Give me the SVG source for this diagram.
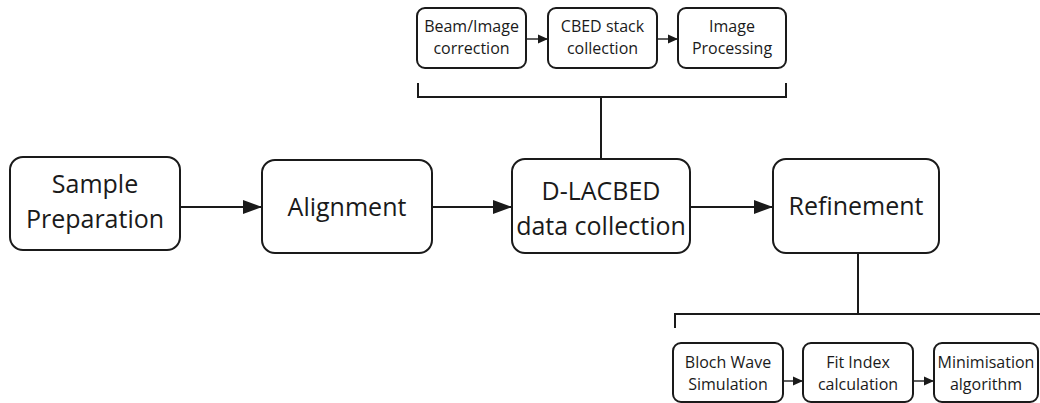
<svg xmlns="http://www.w3.org/2000/svg" width="1040" height="403" viewBox="0 0 1040 403">
<defs>
<style>
.box{fill:#fff;stroke:#1a1a1a;stroke-width:2}
.ln{fill:none;stroke:#1a1a1a;stroke-width:2}
.lt{fill:none;stroke:#1a1a1a;stroke-width:1.4}
.big{font-family:"Open Sans","Noto Sans",sans-serif;font-size:25px;fill:#1a1a1a;text-anchor:middle}
.sm{font-family:"Open Sans","Noto Sans",sans-serif;font-size:16px;fill:#1a1a1a;text-anchor:middle}
</style>
<marker id="ah" viewBox="0 0 10 10" refX="10" refY="5" markerWidth="10" markerHeight="10" markerUnits="userSpaceOnUse" orient="auto"><path d="M0,0.5 L10,5 L0,9.5 z" fill="#1a1a1a"/></marker>
<marker id="ahL" viewBox="0 0 10 10" refX="10" refY="5" markerWidth="19" markerHeight="19" markerUnits="userSpaceOnUse" orient="auto"><path d="M0,1.3 L10,5 L0,8.7 z" fill="#1a1a1a"/></marker>
</defs>
<rect width="1040" height="403" fill="#fff"/>
<g id="connectors">
<line class="ln" x1="180" y1="207" x2="262" y2="207" marker-end="url(#ahL)"/>
<line class="ln" x1="432" y1="207" x2="512" y2="207" marker-end="url(#ahL)"/>
<line class="ln" x1="690" y1="207" x2="773" y2="207" marker-end="url(#ahL)"/>
<line class="lt" x1="526" y1="39" x2="548" y2="39" marker-end="url(#ah)"/>
<line class="lt" x1="657" y1="39" x2="678" y2="39" marker-end="url(#ah)"/>
<line class="lt" x1="783" y1="381" x2="803" y2="381" marker-end="url(#ah)"/>
<line class="lt" x1="913" y1="381" x2="934" y2="381" marker-end="url(#ah)"/>
<path class="ln" d="M418,83 V97 H786 V83"/>
<line class="ln" x1="601" y1="97" x2="601" y2="159"/>
<path class="ln" d="M675,328 V314 H1040"/>
<line class="ln" x1="858" y1="253" x2="858" y2="314"/>
</g>
<g id="sample-preparation">
<rect class="box" x="10" y="157" width="170" height="93" rx="13"/>
<text class="big" x="95" y="193">Sample</text>
<text class="big" x="95" y="228">Preparation</text>
</g>
<g id="alignment">
<rect class="box" x="262" y="160" width="170" height="93" rx="13"/>
<text class="big" x="347" y="216">Alignment</text>
</g>
<g id="d-lacbed">
<rect class="box" x="512" y="159" width="178" height="94" rx="13"/>
<text class="big" x="601" y="200">D-LACBED</text>
<text class="big" x="601" y="235">data collection</text>
</g>
<g id="refinement">
<rect class="box" x="773" y="159" width="166" height="94" rx="13"/>
<text class="big" x="856" y="215">Refinement</text>
</g>
<g id="beam-image-correction">
<rect class="box" x="417" y="8" width="109" height="60" rx="8"/>
<text class="sm" x="471.5" y="32">Beam/Image</text>
<text class="sm" x="471.5" y="54">correction</text>
</g>
<g id="cbed-stack-collection">
<rect class="box" x="548" y="8" width="109" height="60" rx="8"/>
<text class="sm" x="602.5" y="32">CBED stack</text>
<text class="sm" x="602.5" y="54">collection</text>
</g>
<g id="image-processing">
<rect class="box" x="678" y="8" width="108" height="60" rx="8"/>
<text class="sm" x="732" y="32">Image</text>
<text class="sm" x="732" y="54">Processing</text>
</g>
<g id="bloch-wave-simulation">
<rect class="box" x="673" y="343" width="110" height="59" rx="8"/>
<text class="sm" x="728" y="368">Bloch Wave</text>
<text class="sm" x="728" y="390">Simulation</text>
</g>
<g id="fit-index-calculation">
<rect class="box" x="803" y="343" width="110" height="59" rx="8"/>
<text class="sm" x="858" y="368">Fit Index</text>
<text class="sm" x="858" y="390">calculation</text>
</g>
<g id="minimisation-algorithm">
<rect class="box" x="934" y="343" width="104" height="59" rx="8"/>
<text class="sm" x="986" y="368">Minimisation</text>
<text class="sm" x="986" y="390">algorithm</text>
</g>
</svg>
